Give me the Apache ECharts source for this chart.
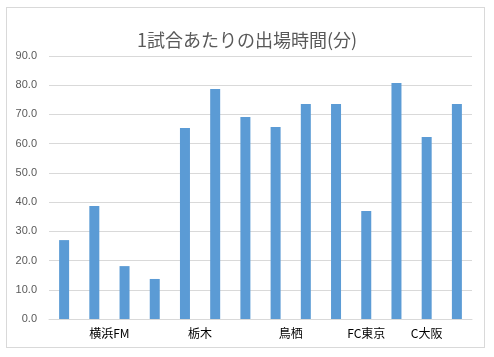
<!DOCTYPE html>
<html>
<head>
<meta charset="utf-8">
<script src="https://cdn.jsdelivr.net/npm/echarts@6/dist/echarts.min.js"></script>
<style>
html,body{margin:0;padding:0;background:#fff;}
#frame{position:absolute;left:6px;top:7px;width:479px;height:341px;border:1px solid #d9d9d9;box-sizing:border-box;}
#main{position:absolute;left:0;top:0;width:494px;height:357px;}
</style>
</head>
<body>
<div id="frame"></div>
<div id="main"></div>
<script>
const titleText = '1試合あたりの出場時間(分)';
const groupNames = ['横浜FM', '栃木', '鳥栖', 'FC東京', 'C大阪'];
const groupSizes = [4, 2, 4, 1, 3];
const values = [27.0, 38.7, 18.1, 13.7, 65.4, 78.7, 69.1, 65.7, 73.6, 73.6, 37.0, 80.8, 62.3, 73.6];
const yTicks = [0, 10, 20, 30, 40, 50, 60, 70, 80, 90];

const barCats = values.map((v, i) => String(i + 1));
// half-slot boundary axis: 2*N + 1 ticks; group label placed at group's center
const n = values.length;
const halfLabels = new Array(2 * n + 1).fill('');
let start = 0;
groupNames.forEach((g, i) => {
  const center2 = start * 2 + groupSizes[i];
  halfLabels[center2] = g;
  start += groupSizes[i];
});

const chart = echarts.init(document.getElementById('main'), null, {renderer: 'canvas'});
chart.setOption({
  animation: false,
  title: {
    text: titleText,
    left: 'center',
    top: 26,
    textStyle: {fontFamily: 'Noto Sans CJK JP', fontSize: 18, fontWeight: 'normal', color: '#595959'}
  },
  grid: {left: 49, right: 22, top: 56, bottom: 38, containLabel: false},
  xAxis: [
    {
      type: 'category',
      data: barCats,
      axisLine: {show: true, lineStyle: {color: '#d9d9d9', width: 1}},
      axisTick: {show: false},
      axisLabel: {show: false}
    },
    {
      type: 'category',
      data: halfLabels,
      boundaryGap: false,
      position: 'bottom',
      axisLine: {show: false},
      axisTick: {show: false},
      axisLabel: {show: true, interval: 0, margin: 8, fontFamily: 'Noto Sans CJK JP', fontSize: 12, color: '#000'}
    }
  ],
  yAxis: {
    type: 'value',
    min: yTicks[0],
    max: yTicks[yTicks.length - 1],
    interval: 10,
    axisLine: {show: false},
    axisTick: {show: false},
    splitLine: {lineStyle: {color: '#d9d9d9', width: 1}},
    axisLabel: {
      formatter: v => v.toFixed(1),
      fontFamily: 'Liberation Sans',
      fontSize: 11,
      color: '#595959',
      margin: 12
    }
  },
  series: [{
    type: 'bar',
    data: values,
    xAxisIndex: 0,
    barWidth: 10,
    itemStyle: {color: '#5b9bd5'}
  }]
});
</script>
</body>
</html>
